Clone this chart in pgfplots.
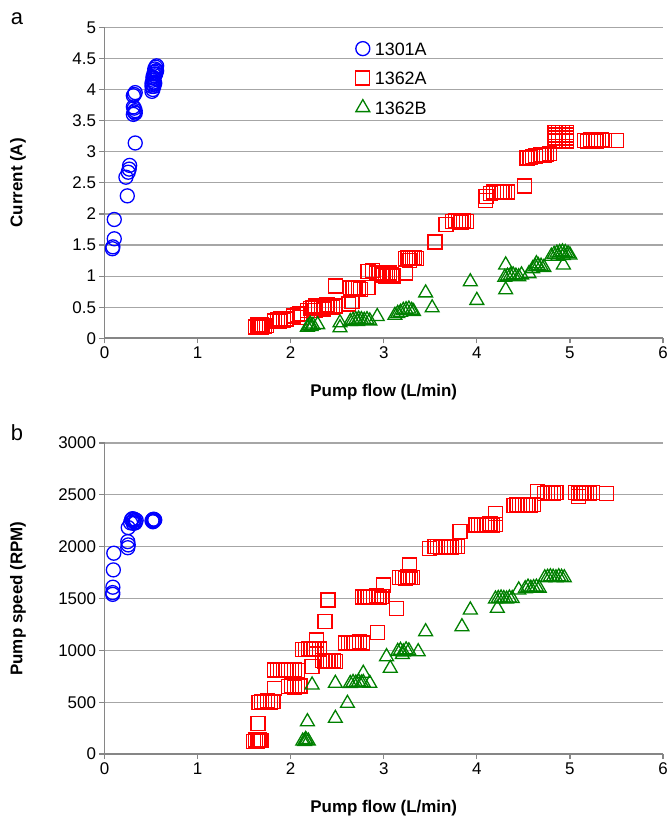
\documentclass[border=0pt]{standalone}
\usepackage{pgfplots}
\pgfplotsset{compat=1.18}
\usepackage{fontspec}
\setmainfont{Liberation Sans}
\definecolor{ser1}{HTML}{0000FF}
\definecolor{ser2}{HTML}{FF0000}
\definecolor{ser3}{HTML}{008000}
\definecolor{axgray}{HTML}{868686}
\definecolor{gridgray}{HTML}{A6A6A6}

\pgfplotsset{
  panel/.style={
    scale only axis,
    width=558.5bp, height=311bp,
    xmin=0, xmax=6, xtick={0,1,...,6},
    axis x line*=bottom, axis y line*=left,
    axis line style={-, axgray, line width=1.8bp},
    ymajorgrids, grid style={gridgray, line width=1.2bp},
    tick align=outside, major tick length=5bp,
    tick style={axgray, line width=1.2bp},
    tick label style={font=\fontsize{17}{20}\selectfont},
    /pgf/number format/assume math mode=true,
    /pgf/number format/1000 sep={},
    scaled ticks=false,
    every axis x label/.style={at={(axis description cs:0.5,-0.174)}, anchor=center,
      font=\fontsize{17}{20}\selectfont\bfseries},
    every axis y label/.style={at={(axis description cs:-0.155,0.5)}, rotate=90, anchor=center,
      font=\fontsize{17}{20}\selectfont\bfseries},
    clip=false,
    legend image code/.code={\draw plot coordinates {(0bp,0bp)};},
  },
  s1/.style={only marks, mark=o, mark size=7bp, ser1, line width=1.3bp},
  s2/.style={only marks, mark=square, mark size=7bp, ser2, line width=1.3bp},
  s3/.style={only marks, mark=triangle, mark size=8bp, ser3, line width=1.3bp},
}

% panel a: pump flow (L/min) vs current (A)
\pgfplotstableread[row sep=\\]{
x y\\
0.085 1.44\\ 0.09 1.47\\ 0.105 1.60\\ 0.105 1.91\\ 0.245 2.29\\ 0.23 2.59\\
0.255 2.67\\ 0.265 2.72\\ 0.27 2.78\\ 0.33 3.14\\ 0.31 3.60\\ 0.32 3.64\\
0.33 3.66\\ 0.32 3.70\\ 0.31 3.72\\ 0.33 3.62\\ 0.32 3.92\\ 0.33 3.95\\ 0.31 3.90\\
0.51 3.97\\ 0.52 4.00\\ 0.51 4.05\\ 0.52 4.08\\ 0.53 4.12\\ 0.52 4.15\\ 0.53 4.18\\
0.54 4.22\\ 0.53 4.25\\ 0.54 4.28\\ 0.55 4.30\\ 0.54 4.33\\ 0.55 4.36\\ 0.56 4.38\\
0.53 4.05\\ 0.54 4.10\\ 0.52 4.20\\ 0.55 4.25\\ 0.51 4.10\\ 0.56 4.30\\
}\curA
\pgfplotstableread[row sep=\\]{
x y\\
1.62 0.18\\ 1.64 0.20\\ 1.66 0.19\\ 1.68 0.17\\ 1.70 0.20\\ 1.72 0.19\\ 1.74 0.21\\ 1.65 0.22\\ 1.69 0.22\\
1.83 0.28\\ 1.86 0.30\\ 1.89 0.32\\ 1.92 0.29\\ 1.95 0.31\\ 1.88 0.27\\
2.03 0.36\\ 2.07 0.38\\ 2.10 0.40\\ 2.12 0.34\\
2.18 0.45\\ 2.21 0.48\\ 2.24 0.50\\ 2.27 0.52\\ 2.30 0.53\\ 2.33 0.50\\ 2.36 0.52\\
2.39 0.54\\ 2.42 0.53\\ 2.45 0.50\\ 2.48 0.52\\ 2.26 0.45\\ 2.35 0.47\\
2.48 0.84\\ 2.66 0.59\\ 2.62 0.55\\
2.64 0.81\\ 2.67 0.80\\ 2.70 0.82\\ 2.73 0.81\\ 2.75 0.79\\ 2.83 0.82\\
2.83 1.07\\ 2.88 1.09\\ 2.92 1.05\\ 2.95 1.06\\ 2.98 1.04\\ 3.00 1.02\\ 3.02 1.00\\
3.04 1.01\\ 3.06 0.99\\ 3.08 1.02\\ 3.10 1.00\\ 3.06 1.05\\ 3.23 1.05\\
3.23 1.28\\ 3.26 1.30\\ 3.29 1.28\\ 3.31 1.29\\ 3.33 1.30\\ 3.35 1.28\\ 3.28 1.25\\
3.55 1.55\\ 3.67 1.83\\
3.74 1.88\\ 3.77 1.89\\ 3.80 1.88\\ 3.83 1.87\\ 3.86 1.89\\ 3.89 1.88\\
4.09 2.21\\ 4.10 2.28\\
4.15 2.33\\ 4.18 2.35\\ 4.21 2.34\\ 4.24 2.36\\ 4.27 2.35\\ 4.30 2.34\\ 4.33 2.35\\
4.51 2.45\\
4.54 2.90\\ 4.57 2.91\\ 4.60 2.92\\ 4.63 2.93\\ 4.66 2.94\\ 4.69 2.95\\ 4.72 2.94\\ 4.75 2.96\\ 4.78 2.97\\
4.84 3.17\\ 4.88 3.17\\ 4.92 3.17\\ 4.96 3.17\\
4.84 3.22\\ 4.88 3.22\\ 4.96 3.22\\
4.84 3.27\\ 4.88 3.27\\ 4.92 3.27\\ 4.96 3.27\\
4.84 3.31\\ 4.88 3.31\\ 4.92 3.31\\ 4.96 3.31\\
5.16 3.18\\ 5.19 3.17\\ 5.22 3.19\\ 5.25 3.18\\ 5.28 3.17\\ 5.31 3.18\\ 5.34 3.19\\ 5.37 3.18\\
5.50 3.18\\
}\curB
\pgfplotstableread[row sep=\\]{
x y\\
2.18 0.18\\ 2.20 0.20\\ 2.22 0.19\\ 2.24 0.21\\ 2.21 0.23\\ 2.29 0.22\\
2.53 0.25\\ 2.53 0.17\\
2.64 0.27\\ 2.67 0.29\\ 2.70 0.30\\ 2.73 0.31\\ 2.76 0.30\\ 2.79 0.29\\ 2.82 0.30\\ 2.85 0.28\\ 2.72 0.27\\
2.93 0.35\\ 3.12 0.37\\ 3.15 0.40\\
3.18 0.42\\ 3.21 0.45\\ 3.24 0.46\\ 3.27 0.47\\ 3.30 0.45\\ 3.32 0.43\\
3.45 0.73\\ 3.52 0.49\\ 3.93 0.91\\ 4.00 0.61\\
4.31 1.18\\ 4.31 0.78\\
4.30 0.98\\ 4.33 1.00\\ 4.36 1.01\\ 4.39 1.02\\ 4.42 1.00\\ 4.45 0.99\\ 4.48 1.02\\
4.56 1.04\\
4.60 1.12\\ 4.63 1.15\\ 4.66 1.17\\ 4.69 1.16\\ 4.72 1.14\\ 4.64 1.20\\
4.93 1.18\\
4.80 1.32\\ 4.83 1.35\\ 4.86 1.37\\ 4.89 1.38\\ 4.92 1.39\\ 4.95 1.38\\ 4.98 1.36\\ 5.00 1.34\\ 4.87 1.32\\ 4.93 1.33\\
}\curC

% panel b: pump flow (L/min) vs pump speed (RPM)
\pgfplotstableread[row sep=\\]{
x y\\
0.088 1540\\ 0.088 1557\\ 0.09 1609\\ 0.095 1776\\ 0.10 1937\\
0.25 1990\\ 0.255 2017\\ 0.25 2049\\ 0.255 2184\\
0.28 2230\\ 0.29 2260\\ 0.30 2270\\ 0.31 2250\\ 0.32 2265\\ 0.33 2240\\ 0.34 2255\\ 0.31 2225\\ 0.33 2230\\
0.51 2250\\ 0.52 2262\\ 0.53 2248\\ 0.54 2258\\ 0.52 2240\\ 0.53 2265\\
}\spdA
\pgfplotstableread[row sep=\\]{
x y\\
1.60 120\\ 1.62 135\\ 1.64 125\\ 1.66 140\\ 1.68 130\\
1.65 296\\
1.66 500\\ 1.69 505\\ 1.72 495\\ 1.75 510\\ 1.78 500\\ 1.81 505\\
1.83 634\\
1.98 650\\ 2.01 655\\ 2.04 645\\ 2.07 650\\ 2.10 655\\
1.83 810\\ 1.86 815\\ 1.89 805\\ 1.92 810\\ 1.95 815\\ 1.98 810\\ 2.01 805\\ 2.04 812\\ 2.07 808\\
2.23 843\\
2.13 1005\\ 2.16 1010\\ 2.19 1015\\ 2.22 1010\\ 2.25 1005\\ 2.28 1010\\ 2.31 1012\\
2.28 1100\\
2.34 900\\ 2.37 895\\ 2.40 905\\ 2.43 900\\ 2.46 905\\ 2.48 895\\
2.37 1277\\ 2.40 1486\\
2.59 1070\\ 2.62 1075\\ 2.65 1065\\ 2.68 1075\\ 2.71 1070\\ 2.74 1080\\ 2.77 1070\\
2.93 1174\\ 3.14 1406\\
2.77 1515\\ 2.80 1520\\ 2.83 1510\\ 2.86 1520\\ 2.89 1515\\ 2.92 1525\\ 2.95 1515\\ 2.98 1520\\
3.00 1631\\
3.17 1700\\ 3.20 1705\\ 3.23 1695\\ 3.26 1710\\ 3.29 1700\\ 3.31 1705\\
3.28 1824\\
3.49 1985\\ 3.55 2000\\ 3.58 2005\\ 3.61 1995\\ 3.64 2000\\ 3.67 2005\\ 3.70 2000\\ 3.73 1995\\ 3.76 2000\\ 3.79 2005\\
3.82 2145\\
3.99 2210\\ 4.02 2215\\ 4.05 2205\\ 4.08 2215\\ 4.11 2210\\ 4.14 2220\\ 4.17 2210\\ 4.20 2215\\
4.20 2323\\
4.40 2400\\ 4.43 2405\\ 4.46 2395\\ 4.49 2410\\ 4.52 2400\\ 4.55 2405\\ 4.58 2400\\ 4.61 2410\\
4.65 2531\\
4.73 2515\\ 4.76 2525\\ 4.79 2520\\ 4.82 2515\\ 4.85 2520\\
5.06 2520\\ 5.09 2510\\ 5.12 2525\\ 5.15 2515\\ 5.18 2520\\ 5.21 2515\\ 5.24 2520\\
5.09 2485\\ 5.39 2510\\
}\spdB
\pgfplotstableread[row sep=\\]{
x y\\
2.13 125\\ 2.15 120\\ 2.17 130\\ 2.19 125\\ 2.16 140\\
2.18 312\\ 2.23 666\\ 2.48 344\\ 2.48 682\\ 2.61 489\\
2.64 680\\ 2.67 690\\ 2.70 685\\ 2.73 695\\ 2.76 685\\ 2.78 690\\
2.78 779\\ 2.85 682\\ 3.07 827\\ 3.03 939\\
3.15 990\\ 3.18 1000\\ 3.21 985\\ 3.24 1005\\ 3.27 995\\ 3.20 960\\
3.37 987\\ 3.45 1180\\ 3.84 1228\\ 3.93 1390\\
4.20 1495\\ 4.23 1500\\ 4.26 1505\\ 4.29 1500\\ 4.32 1495\\ 4.35 1505\\ 4.38 1500\\
4.22 1406\\ 4.45 1583\\
4.52 1595\\ 4.55 1610\\ 4.58 1600\\ 4.61 1605\\ 4.64 1610\\ 4.67 1600\\
4.73 1700\\ 4.76 1705\\ 4.79 1710\\ 4.82 1705\\ 4.85 1700\\ 4.88 1710\\ 4.91 1705\\ 4.94 1700\\
}\spdC

\begin{document}
\begin{tikzpicture}
\useasboundingbox (0bp,0bp) rectangle (668bp,-819bp);

\node[font=\fontsize{22}{24}\selectfont] at (17bp,-19bp) {a};
\node[font=\fontsize{22}{24}\selectfont] at (17bp,-433bp) {b};

% ---- panel a
\begin{axis}[panel,
  at={(104.5bp,-338.3bp)}, anchor=south west,
  ymin=0, ymax=5, ytick={0,0.5,...,5},
  xlabel={Pump flow (L/min)}, ylabel={Current (A)},
  legend style={at={(axis cs:2.70,4.81)}, anchor=north west, draw=none, fill=none,
    inner sep=0pt, outer sep=0pt, row sep=10.5bp,
    font=\fontsize{18}{21}\selectfont,
    nodes={text height=13bp, text depth=0bp, inner sep=3bp},
    /tikz/every odd column/.append style={column sep=2bp}},
]
\addplot[s1] table[x=x, y=y] {\curA};
\addlegendentry{1301A}
\addplot[s2] table[x=x, y=y] {\curB};
\addlegendentry{1362A}
\addplot[s3] table[x=x, y=y] {\curC};
\addlegendentry{1362B}
\end{axis}

% ---- panel b
\begin{axis}[panel,
  at={(104.5bp,-754bp)}, anchor=south west,
  ymin=0, ymax=3000, ytick={0,500,...,3000},
  xlabel={Pump flow (L/min)}, ylabel={Pump speed (RPM)},
]
\addplot[s1] table[x=x, y=y] {\spdA};
\addplot[s2] table[x=x, y=y] {\spdB};
\addplot[s3] table[x=x, y=y] {\spdC};
\end{axis}
\end{tikzpicture}
\end{document}
